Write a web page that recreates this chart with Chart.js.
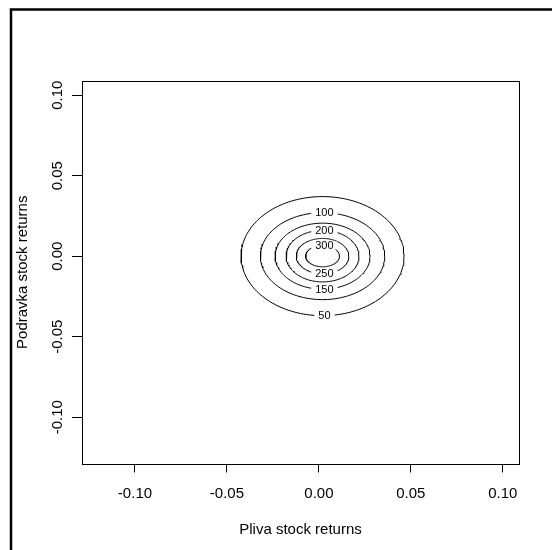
<!DOCTYPE html>
<html><head><meta charset="utf-8">
<script src="https://cdn.jsdelivr.net/npm/chart.js@4/dist/chart.umd.min.js"></script>
<style>html,body{margin:0;padding:0;background:#fff;}canvas{display:block;}</style>
</head><body>
<canvas id="c" width="552" height="550"></canvas>
<script>
// Contour levels of the bivariate density and their semi-axes
const levels   = [50, 100, 150, 200, 250, 300];
const radiusX  = [0.0443, 0.0338, 0.0258, 0.0198, 0.0143, 0.0092];
const radiusY  = [0.0370, 0.0270, 0.0205, 0.0160, 0.0110, 0.0066];
const center   = [0.002, 0.000];
const labelSide = ['bottom', 'top', 'bottom', 'top', 'bottom', 'top'];
const xTicks = [-0.10, -0.05, 0.00, 0.05, 0.10];
const yTicks = [-0.10, -0.05, 0.00, 0.05, 0.10];
const xLimits = [-0.1288, 0.1088];
const yLimits = [-0.1288, 0.1088];
const xTitle = 'Pliva stock returns';
const yTitle = 'Podravka stock returns';

const FONT = 'Arial, "Liberation Sans", sans-serif';
const N = 160;
const datasets = levels.map((lv, i) => {
  const pts = [];
  for (let k = 0; k <= N; k++) {
    const t = 2 * Math.PI * k / N;
    pts.push({x: center[0] + radiusX[i] * Math.cos(t), y: center[1] + radiusY[i] * Math.sin(t)});
  }
  return {label: String(lv), data: pts, showLine: true, borderColor: '#000',
          borderWidth: 1, pointRadius: 0, fill: false, tension: 0};
});

const decor = {
  id: 'decor',
  beforeDraw(chart) {
    const c = chart.ctx;
    c.save();
    c.fillStyle = '#fff';
    c.fillRect(0, 0, chart.width, chart.height);
    c.strokeStyle = '#000';
    c.lineWidth = 2.5;
    c.beginPath();
    c.moveTo(11, 552); c.lineTo(11, 9.5); c.lineTo(560, 9.5);
    c.stroke();
    c.restore();
  },
  afterDatasetsDraw(chart) {
    const c = chart.ctx, xs = chart.scales.x, ys = chart.scales.y;
    c.save();
    // contour labels with gaps
    c.font = '11px ' + FONT;
    c.textAlign = 'center';
    c.textBaseline = 'middle';
    levels.forEach((lv, i) => {
      const yv = center[1] + (labelSide[i] === 'top' ? radiusY[i] : -radiusY[i]);
      const px = xs.getPixelForValue(center[0] + 0.001), py = ys.getPixelForValue(yv);
      const w = c.measureText(String(lv)).width + 8;
      c.fillStyle = '#fff';
      c.fillRect(px - w / 2, py - 4, w, 8);
      c.fillStyle = '#000';
      c.fillText(String(lv), px, py + 0.5);
    });
    // plot box
    const a = chart.chartArea;
    c.strokeStyle = '#000';
    c.lineWidth = 1;
    c.strokeRect(Math.round(a.left) + 0.5, Math.round(a.top) + 0.5,
                 Math.round(a.right - a.left), Math.round(a.bottom - a.top));
    // y tick labels (rotated, R style)
    c.font = '15px ' + FONT;
    c.fillStyle = '#000';
    ys.ticks.forEach(t => {
      const py = ys.getPixelForValue(t.value);
      c.save();
      c.translate(58, py);
      c.rotate(-Math.PI / 2);
      c.fillText(t.value.toFixed(2), 0, 0);
      c.restore();
    });
    // axis titles
    c.fillText(xTitle, (a.left + a.right) / 2, 530);
    c.save();
    c.translate(23, (a.top + a.bottom) / 2);
    c.rotate(-Math.PI / 2);
    c.fillText(yTitle, 0, 0);
    c.restore();
    c.restore();
  }
};

new Chart(document.getElementById('c'), {
  type: 'scatter',
  data: {datasets},
  plugins: [decor],
  options: {
    responsive: false,
    animation: false,
    devicePixelRatio: 1,
    layout: {padding: {top: 81, right: 33, left: 0, bottom: 0}},
    plugins: {legend: {display: false}, tooltip: {enabled: false}, title: {display: false}},
    scales: {
      x: {
        type: 'linear', min: xLimits[0], max: xLimits[1],
        afterBuildTicks: s => { s.ticks = xTicks.map(v => ({value: v})); },
        afterFit: s => { s.height = 86.5; },
        grid: {drawOnChartArea: false, drawTicks: true, tickLength: 9, color: '#000', lineWidth: 1},
        border: {display: false},
        ticks: {color: '#000', font: {size: 15, family: FONT}, padding: 12,
                maxRotation: 0, minRotation: 0, callback: v => Number(v).toFixed(2)}
      },
      y: {
        type: 'linear', min: yLimits[0], max: yLimits[1],
        afterBuildTicks: s => { s.ticks = yTicks.map(v => ({value: v})); },
        afterFit: s => { s.width = 82; },
        grid: {drawOnChartArea: false, drawTicks: true, tickLength: 10, color: '#000', lineWidth: 1},
        border: {display: false},
        ticks: {display: false}
      }
    }
  }
});
</script>
</body></html>
